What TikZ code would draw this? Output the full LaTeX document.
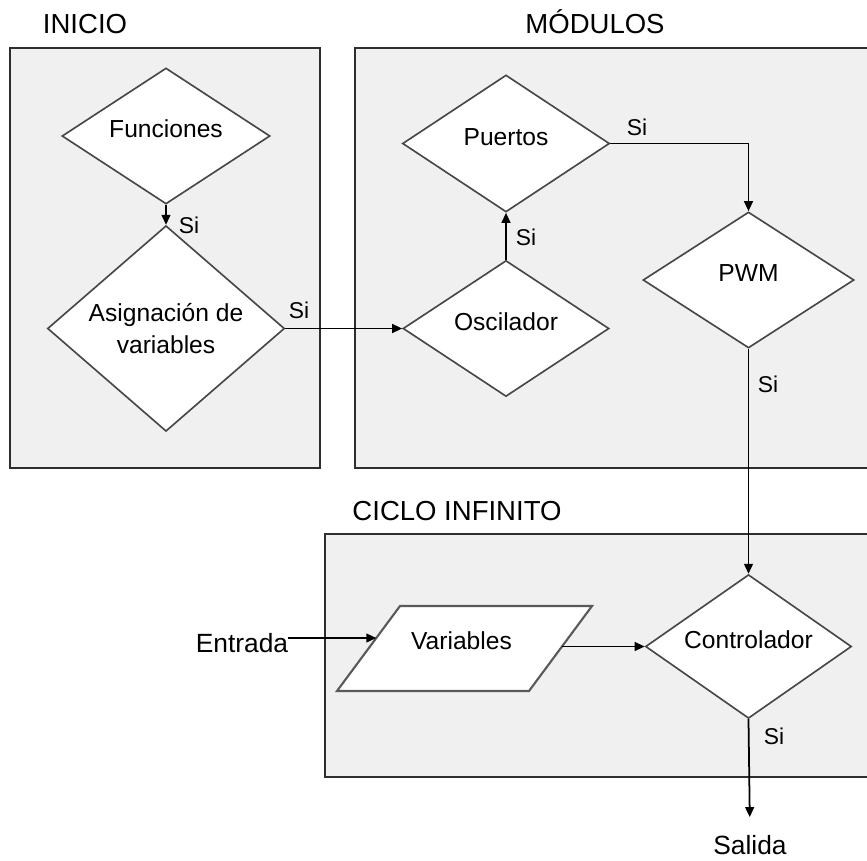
\documentclass[tikz,border=0pt]{standalone}
\usepackage{fontspec}
\setmainfont{Liberation Sans}
\usetikzlibrary{shapes.geometric,arrows.meta,calc}

\begin{document}
\begin{tikzpicture}[x=0.03cm,y=-0.03cm,
  group/.style={draw=black!82, fill=black!6, line width=1.6pt},
  decision/.style={diamond, draw=black!72, fill=white, line width=1.4pt,
    inner sep=0pt, font=\fontsize{21}{28}\selectfont},
  oneline/.style={text height=0.8em, text depth=0.5em},
  inout/.style={draw=black!65, fill=white, line width=1.8pt, line join=miter},
  flow/.style={line width=1.5pt, -{Triangle[length=8.5pt,width=7.5pt]}},
  title/.style={font=\fontsize{23.5}{28}\selectfont, inner sep=0pt, anchor=base},
  yes/.style={font=\fontsize{19.5}{23}\selectfont, inner sep=0pt, anchor=base},
  term/.style={font=\fontsize{22.5}{27}\selectfont, inner sep=0pt, anchor=base},
  plain/.style={font=\fontsize{21}{28}\selectfont, inner sep=0pt, anchor=base}
]
\useasboundingbox (0,0) rectangle (867,860);
\clip (0,0) rectangle (867,860);

% group frames and their titles
\draw[group] (10,48) rectangle (320,468);
\draw[group] (355,48) rectangle (895,468);
\draw[group] (325,534) rectangle (895,777);
\node[title] (tini) at (85,33) {INICIO};
\node[title] (tmod) at (595,33) {MÓDULOS};
\node[title] (tcic) at (457,520) {CICLO INFINITO};

% decisions
\node[decision, oneline, minimum width=6.24cm, minimum height=4.08cm] (fun) at (166,136) {Funciones};
\node[decision, align=center, minimum width=7.11cm, minimum height=4.8cm] (asig) at (166,328.5) {Asignación de\\variables};
\node[decision, oneline, minimum width=6.21cm, minimum height=4.11cm] (pue) at (506,143.5) {Puertos};
\node[decision, oneline, minimum width=6.18cm, minimum height=4.08cm] (osc) at (506,328.5) {Oscilador};
\node[decision, oneline, minimum width=6.33cm, minimum height=4.08cm] (pwm) at (748.5,280) {PWM};
\node[decision, oneline, minimum width=6.18cm, minimum height=4.11cm] (ctl) at (748.5,646.5) {Controlador};

% input block
\coordinate (vbl) at (337,691);
\coordinate (vbr) at (529,691);
\coordinate (vtr) at (592,606);
\coordinate (vtl) at (400,606);
\draw[inout] (vbl) -- (vbr) -- (vtr) -- (vtl) -- cycle;
\node[plain] (var) at (461.5,649) {Variables};
\coordinate (vin) at ($(vbl)!0.6235!(vtl)$);
\coordinate (vout) at ($(vbr)!0.5235!(vtr)$);

% terminals
\node[term] (ent) at (242,652) {Entrada};
\node[term] (sal) at (750,854) {Salida};

% connectors
\draw[flow] (fun.south) -- (asig.north);
\draw[flow] (asig.east) -- (osc.west);
\draw[flow] (osc.north) -- (pue.south);
\draw[flow] (pue.east) -| (pwm.north);
\draw[flow] (pwm.south) -- (ctl.north);
\draw[flow] (ent.east |- vin) -- (vin);
\draw[flow] (vout) -- (vout -| ctl.west);
\draw[flow, shorten >=15pt] (ctl.south) -- (sal.north);

% branch labels
\node[yes] (s1) at (189,233) {Si};
\node[yes] (s2) at (299,318) {Si};
\node[yes] (s3) at (637,135) {Si};
\node[yes] (s4) at (526,245) {Si};
\node[yes] (s5) at (768,392) {Si};
\node[yes] (s6) at (774,744) {Si};
\end{tikzpicture}
\end{document}
